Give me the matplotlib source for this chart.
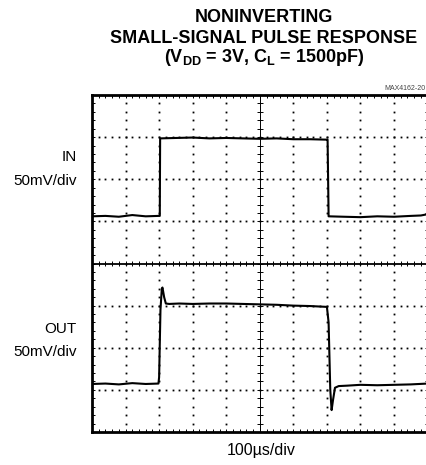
import numpy as np
import matplotlib
matplotlib.use("Agg")
import matplotlib.pyplot as plt

# scope traces, in divisions (x: 100us/div, y: 50mV/div, 8 div tall)
in_t = [0, 0.4, 0.8, 1.2, 1.6, 1.99, 2.02, 2.03, 2.5, 3.0, 3.5, 4.0, 4.5, 5.0, 5.5, 6.0, 6.5, 6.98, 7.02, 7.05,
        7.5, 8.0, 8.5, 9.0, 9.5, 9.8, 10]
in_v = [5.12, 5.13, 5.11, 5.15, 5.12, 5.13, 5.13, 6.97, 6.98, 6.99, 6.97, 6.98, 6.97, 6.96, 6.97, 6.95, 6.95, 6.94, 6.94, 5.12,
        5.11, 5.10, 5.12, 5.11, 5.13, 5.14, 5.17]

out_t = [0, 0.4, 0.8, 1.2, 1.6, 1.98, 2.0, 2.04, 2.08, 2.1, 2.15, 2.2, 2.3, 2.6, 3.0, 3.5, 4.0, 4.5, 5.0, 5.5, 6.0,
         6.5, 7.0, 7.05, 7.1, 7.14, 7.18, 7.24, 7.35, 7.6, 8.0, 8.5, 9.0, 9.5, 10]
out_v = [1.14, 1.15, 1.13, 1.16, 1.14, 1.15, 1.3, 2.9, 3.4, 3.43, 3.2, 3.05, 3.04, 3.05, 3.04, 3.05, 3.05, 3.04, 3.03, 3.02, 3.0,
         2.99, 2.97, 2.6, 1.0, 0.52, 0.75, 1.05, 1.09, 1.1, 1.12, 1.11, 1.12, 1.13, 1.15]

plt.rcParams['font.family'] = ['Liberation Sans', 'DejaVu Sans']

fig = plt.figure(figsize=(4.27, 4.65), dpi=100)
ax = fig.add_axes([92 / 427, 33 / 465, 335.6 / 427, 337 / 465])
ax.set_xlim(0, 10)
ax.set_ylim(0, 8)

# graticule: dotted major lines
fine_x = np.arange(0, 10.01, 0.2)
fine_y = np.arange(0, 8.01, 0.2)
for gy in [1, 2, 3, 5, 6, 7]:
    ax.plot(fine_x, np.full_like(fine_x, gy), ls='none', marker='s', ms=1.3, mew=0, color='black')
for gx in [1, 2, 3, 4, 6, 7, 8, 9]:
    ax.plot(np.full_like(fine_y, gx), fine_y, ls='none', marker='s', ms=1.3, mew=0, color='black')

# center cross with fine ticks
ax.axhline(4, color='black', lw=1.3)
ax.axvline(5, color='black', lw=0.7)
ax.vlines(fine_x, 4 - 0.07, 4 + 0.07, color='black', lw=0.7)
ax.hlines(fine_y, 5 - 0.09, 5 + 0.09, color='black', lw=0.7)

ax.plot(in_t, in_v, color='black', lw=1.5)
ax.plot(out_t, out_v, color='black', lw=1.5)

ax.set_xticks(fine_x)
ax.set_yticks(fine_y)
ax.tick_params(direction='in', length=2.5, width=0.7, top=True, right=True,
               labelbottom=False, labelleft=False)
for s in ax.spines.values():
    s.set_linewidth(2)

fig.text(264 / 427, 1 - 18 / 465, "NONINVERTING", ha='center', va='center', fontsize=13, fontweight='bold')
fig.text(264 / 427, 1 - 38 / 465, "SMALL-SIGNAL PULSE RESPONSE", ha='center', va='center', fontsize=13,
         fontweight='bold')
fig.text(264 / 427, 1 - 58 / 465, r"(V$_\mathregular{DD}$ = 3V, C$_\mathregular{L}$ = 1500pF)", ha='center',
         va='center', fontsize=13, fontweight='bold')
fig.text(384 / 427, 1 - 89 / 465, "MAX4162-20", ha='left', va='center', fontsize=5, color='#444444')

fig.text(77 / 427, 1 - 157 / 465, "IN", ha='right', va='center', fontsize=11)
fig.text(77 / 427, 1 - 181 / 465, "50mV/div", ha='right', va='center', fontsize=11)
fig.text(77 / 427, 1 - 329 / 465, "OUT", ha='right', va='center', fontsize=11)
fig.text(77 / 427, 1 - 352 / 465, "50mV/div", ha='right', va='center', fontsize=11)
fig.text(261 / 427, 1 - 450 / 465, "100µs/div", ha='center', va='center', fontsize=11.5)

fig.savefig("out.png", dpi=100)
